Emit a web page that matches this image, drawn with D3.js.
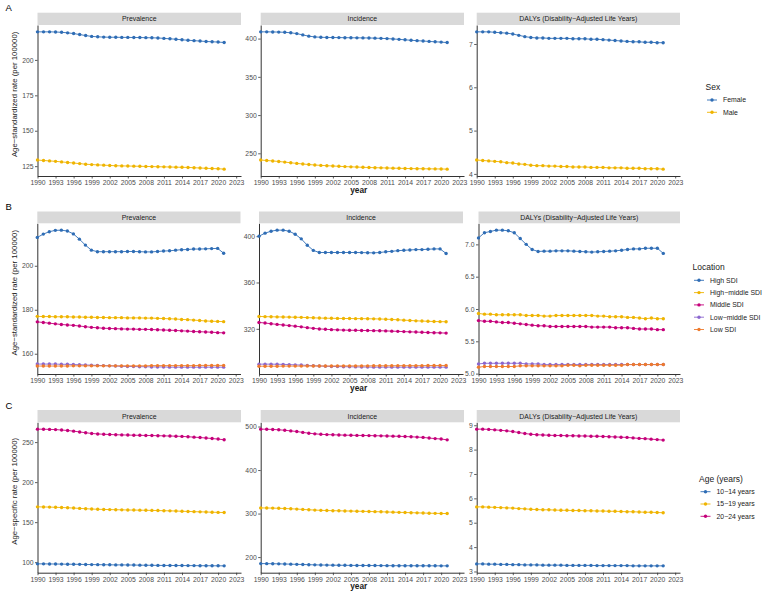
<!DOCTYPE html>
<html>
<head>
<meta charset="utf-8">
<script src="https://cdn.jsdelivr.net/npm/d3@7"></script>
<style>
  body { margin: 0; background: #fff; }
  text { font-family: "Liberation Sans", Arial, sans-serif; }
</style>
</head>
<body>
<svg id="chart" width="767" height="594"></svg>
<script>
// ---- data ----
const years = d3.range(1990, 2022);
const xBreaks = d3.range(1990, 2024, 3);
const measures = ["Prevalence", "Incidence", "DALYs (Disability\u2212Adjusted Life Years)"];

const sexGroups = ["Female", "Male"];
const sdiGroups = ["High SDI", "High\u2212middle SDI", "Middle SDI", "Low\u2212middle SDI", "Low SDI"];
const ageGroups = ["10\u221214 years", "15\u221219 years", "20\u221224 years"];

const sexColors = ["#2f6db5", "#efb400"];
const sdiColors = ["#2f6db5", "#efb400", "#c5007a", "#8b67cf", "#ee7a2d"];
const ageColors = ["#2f6db5", "#efb400", "#c5007a"];

// A: by sex
const sexPrevFemale = [219.8,219.8,219.8,219.7,219.5,219.1,218.6,217.9,217.2,216.6,216.3,216.1,216.0,216.0,215.9,215.9,215.8,215.8,215.7,215.6,215.5,215.2,214.9,214.6,214.2,213.9,213.6,213.3,213.0,212.8,212.6,212.3];
const sexPrevMale   = [129.3,129.0,128.7,128.4,128.0,127.6,127.2,126.8,126.4,126.1,125.9,125.7,125.5,125.3,125.2,125.1,125.0,124.9,124.8,124.7,124.6,124.5,124.4,124.3,124.2,124.1,123.9,123.7,123.5,123.3,123.2,122.9];
const sexIncFemale  = [408.8,408.8,408.7,408.5,408.2,407.6,406.5,404.8,403.2,402.2,401.7,401.5,401.4,401.3,401.2,401.1,401.0,400.9,400.8,400.6,400.3,400.0,399.5,399.0,398.4,397.8,397.3,396.8,396.3,395.8,395.4,394.8];
const sexIncMale    = [241.2,240.6,240.0,239.3,238.5,237.6,236.8,236.0,235.3,234.7,234.2,233.8,233.4,233.0,232.6,232.3,232.0,231.7,231.4,231.2,231.0,230.8,230.6,230.4,230.2,230.0,229.9,229.8,229.7,229.6,229.5,229.3];
const sexDalyFemale = [7.28,7.28,7.28,7.27,7.26,7.25,7.23,7.20,7.17,7.15,7.14,7.14,7.13,7.13,7.13,7.13,7.12,7.12,7.12,7.11,7.11,7.10,7.09,7.08,7.07,7.06,7.05,7.05,7.04,7.04,7.03,7.03];
const sexDalyMale   = [4.32,4.31,4.30,4.29,4.28,4.26,4.25,4.23,4.22,4.20,4.19,4.19,4.18,4.18,4.17,4.17,4.16,4.16,4.16,4.15,4.15,4.15,4.14,4.14,4.14,4.13,4.13,4.13,4.12,4.12,4.12,4.11];

// B: by SDI
const sdiPrevHigh    = [212.9,214.4,215.5,216.1,216.2,215.8,214.5,212.1,209.4,207.1,206.4,206.4,206.4,206.4,206.4,206.5,206.5,206.4,206.3,206.3,206.5,206.7,206.8,207.1,207.3,207.4,207.6,207.6,207.7,207.8,207.9,205.7];
const sdiPrevHighMid = [177.0,176.9,176.9,176.8,176.8,176.8,176.7,176.7,176.6,176.6,176.5,176.5,176.4,176.4,176.4,176.3,176.3,176.3,176.2,176.2,176.1,176.0,175.9,175.8,175.6,175.5,175.3,175.1,174.9,174.8,174.7,174.6];
const sdiPrevMid     = [174.5,174.2,173.9,173.6,173.3,173.1,172.9,172.6,172.3,172.0,171.8,171.6,171.5,171.4,171.3,171.2,171.2,171.1,171.1,171.0,170.9,170.8,170.7,170.6,170.4,170.3,170.1,170.0,169.9,169.8,169.6,169.5];
const sdiPrevLowMid  = [155.3,155.3,155.3,155.3,155.2,155.2,155.1,155.0,154.9,154.8,154.7,154.6,154.5,154.4,154.3,154.2,154.2,154.1,154.1,154.0,154.0,154.0,153.9,153.9,153.9,153.9,153.9,153.9,153.9,153.9,153.9,153.9];
const sdiPrevLow     = [154.4,154.4,154.4,154.4,154.4,154.4,154.5,154.5,154.5,154.5,154.5,154.5,154.5,154.5,154.5,154.5,154.5,154.5,154.5,154.6,154.6,154.6,154.6,154.6,154.6,154.6,154.6,154.7,154.7,154.7,154.7,154.7];
const sdiIncHigh     = [400.0,402.6,404.3,405.2,405.2,404.3,401.7,397.7,392.2,387.7,385.9,385.9,385.9,385.9,385.9,385.9,385.9,385.8,385.7,385.6,385.9,386.5,386.9,387.5,387.8,388.1,388.4,388.4,388.7,389.0,389.0,385.1];
const sdiIncHighMid  = [330.7,330.5,330.4,330.3,330.2,330.1,330.0,329.9,329.7,329.5,329.3,329.2,329.1,329.0,328.9,328.9,328.8,328.8,328.7,328.6,328.5,328.3,328.1,327.8,327.5,327.2,326.9,326.7,326.5,326.3,326.2,326.1];
const sdiIncMid      = [325.5,325.0,324.4,323.8,323.3,322.8,322.3,321.7,321.0,320.4,319.9,319.6,319.3,319.1,318.9,318.8,318.7,318.6,318.5,318.4,318.3,318.2,318.0,317.8,317.6,317.4,317.2,317.0,316.8,316.6,316.5,316.3];
const sdiIncLowMid   = [289.5,289.5,289.5,289.4,289.3,289.1,288.9,288.7,288.4,288.1,287.9,287.7,287.5,287.4,287.3,287.2,287.1,287.0,287.0,286.9,286.9,286.9,286.9,286.9,286.9,286.9,286.9,286.9,286.9,286.9,286.9,286.9];
const sdiIncLow      = [287.7,287.7,287.7,287.7,287.8,287.8,287.8,287.8,287.9,287.9,287.9,287.9,287.9,288.0,288.0,288.0,288.0,288.0,288.0,288.1,288.1,288.1,288.1,288.2,288.2,288.2,288.2,288.2,288.3,288.3,288.3,288.3];
const sdiDalyHigh    = [7.10,7.18,7.20,7.22,7.22,7.21,7.18,7.09,7.00,6.92,6.89,6.895,6.895,6.90,6.90,6.90,6.895,6.89,6.885,6.88,6.885,6.89,6.895,6.90,6.91,6.92,6.93,6.93,6.94,6.94,6.94,6.86];
const sdiDalyHighMid = [5.93,5.92,5.92,5.91,5.91,5.91,5.91,5.91,5.90,5.90,5.90,5.89,5.89,5.90,5.90,5.90,5.90,5.90,5.90,5.90,5.89,5.89,5.88,5.88,5.88,5.87,5.87,5.86,5.85,5.86,5.85,5.85];
const sdiDalyMid     = [5.82,5.81,5.81,5.80,5.79,5.79,5.78,5.77,5.76,5.75,5.74,5.74,5.73,5.73,5.73,5.73,5.73,5.73,5.73,5.72,5.72,5.72,5.72,5.71,5.71,5.71,5.70,5.69,5.69,5.69,5.68,5.68];
const sdiDalyLowMid  = [5.15,5.16,5.16,5.16,5.16,5.16,5.16,5.16,5.15,5.15,5.15,5.14,5.14,5.14,5.14,5.14,5.14,5.14,5.14,5.14,5.14,5.14,5.14,5.14,5.14,5.14,5.14,5.14,5.14,5.14,5.14,5.14];
const sdiDalyLow     = [5.10,5.11,5.11,5.11,5.11,5.11,5.11,5.12,5.12,5.12,5.12,5.12,5.12,5.12,5.12,5.13,5.13,5.12,5.13,5.13,5.13,5.13,5.13,5.13,5.13,5.14,5.14,5.14,5.14,5.14,5.14,5.14];

// C: by age
const agePrev1014 = [97.9,97.9,97.8,97.7,97.6,97.5,97.4,97.3,97.1,97.0,96.9,96.8,96.7,96.6,96.6,96.5,96.4,96.3,96.2,96.1,96.0,95.9,95.9,95.8,95.8,95.7,95.7,95.6,95.6,95.5,95.5,95.4];
const agePrev1519 = [169.1,169.0,168.8,168.6,168.3,168.0,167.6,167.2,166.8,166.4,166.1,165.9,165.7,165.5,165.4,165.2,165.1,165.0,164.8,164.7,164.5,164.3,164.1,163.9,163.6,163.4,163.1,162.9,162.7,162.4,162.2,162.0];
const agePrev2024 = [266.2,266.1,265.9,265.6,265.1,264.5,263.7,262.7,261.7,260.8,260.2,259.8,259.5,259.2,259.0,258.8,258.6,258.5,258.3,258.2,258.0,257.8,257.6,257.4,257.1,256.7,256.2,255.7,255.1,254.5,253.8,252.9];
const ageInc1014  = [185.0,184.9,184.7,184.4,184.1,183.7,183.3,182.9,182.5,182.1,181.8,181.6,181.4,181.2,181.1,180.9,180.8,180.7,180.6,180.5,180.4,180.3,180.2,180.2,180.1,180.1,180.0,180.0,179.9,179.9,179.8,179.8];
const ageInc1519  = [313.0,312.8,312.5,312.1,311.6,311.0,310.3,309.5,308.7,308.0,307.4,307.0,306.6,306.3,306.0,305.7,305.4,305.1,304.8,304.4,304.0,303.6,303.2,302.8,302.4,302.0,301.6,301.2,300.8,300.5,300.2,300.0];
const ageInc2024  = [494.0,493.8,493.3,492.5,491.4,490.0,488.5,486.5,484.7,483.2,482.1,481.4,481.0,480.6,480.2,479.9,479.6,479.4,479.2,478.9,478.6,478.3,477.9,477.5,477.0,476.4,475.7,475.0,473.5,472.3,471.3,469.4];
const ageDaly1014 = [3.31,3.31,3.30,3.30,3.29,3.29,3.28,3.28,3.27,3.27,3.27,3.26,3.26,3.26,3.26,3.25,3.25,3.25,3.25,3.25,3.24,3.24,3.24,3.24,3.24,3.24,3.23,3.23,3.23,3.23,3.23,3.23];
const ageDaly1519 = [5.65,5.65,5.64,5.63,5.62,5.61,5.60,5.58,5.57,5.55,5.54,5.53,5.53,5.52,5.51,5.51,5.50,5.50,5.49,5.49,5.48,5.48,5.47,5.47,5.46,5.45,5.45,5.44,5.43,5.43,5.42,5.41];
const ageDaly2024 = [8.84,8.84,8.83,8.81,8.79,8.77,8.74,8.70,8.66,8.63,8.61,8.60,8.59,8.58,8.58,8.57,8.57,8.56,8.56,8.55,8.55,8.54,8.53,8.52,8.51,8.50,8.48,8.46,8.45,8.43,8.41,8.39];

// y tick labels per panel
const sexTicks = [[125,150,175,200],[250,300,350,400],[4,5,6,7]];
const sdiTicks = [[160,180,200],[320,360,400],[5.0,5.5,6.0,6.5,7.0]];
const ageTicks = [[100,150,200,250],[200,300,400,500],[3,4,5,6,7,8,9]];

// ---- layout ----
const rows = [
  { tag: "A", yTitle: "Age\u2212standardized rate (per 100000)", legendTitle: "Sex",
    groups: sexGroups, colors: sexColors, ticks: sexTicks, fmt: [d3.format("d"), d3.format("d"), d3.format("d")],
    series: [[sexPrevFemale, sexPrevMale], [sexIncFemale, sexIncMale], [sexDalyFemale, sexDalyMale]],
    stripTop: 12.7, top: 25, bottom: 176,
    xs: [[37.5, 241], [260.7, 464], [476.7, 680]], legendX: 705.5, legendY: 87 },
  { tag: "B", yTitle: "Age\u2212standardized rate (per 100000)", legendTitle: "Location",
    groups: sdiGroups, colors: sdiColors, ticks: sdiTicks, fmt: [d3.format("d"), d3.format("d"), d3.format(".1f")],
    series: [[sdiPrevHigh, sdiPrevHighMid, sdiPrevMid, sdiPrevLowMid, sdiPrevLow],
             [sdiIncHigh, sdiIncHighMid, sdiIncMid, sdiIncLowMid, sdiIncLow],
             [sdiDalyHigh, sdiDalyHighMid, sdiDalyMid, sdiDalyLowMid, sdiDalyLow]],
    stripTop: 211.5, top: 223.3, bottom: 374,
    xs: [[37.3, 240.5], [259, 463], [478.5, 680]], legendX: 692.5, legendY: 267.3 },
  { tag: "C", yTitle: "Age\u2212specific rate (per 100000)", legendTitle: "Age (years)",
    groups: ageGroups, colors: ageColors, ticks: ageTicks, fmt: [d3.format("d"), d3.format("d"), d3.format("d")],
    series: [[agePrev1014, agePrev1519, agePrev2024], [ageInc1014, ageInc1519, ageInc2024], [ageDaly1014, ageDaly1519, ageDaly2024]],
    stripTop: 410, top: 422.3, bottom: 572.7,
    xs: [[37.5, 241], [260.7, 464], [476.7, 680]], legendX: 699, legendY: 478.7 }
];

const svg = d3.select("#chart");
const axisCol = "#333333";
const tickCol = "#4d4d4d";

rows.forEach(row => {
  const rg = svg.append("g");

  // panel tag
  rg.append("text").attr("x", 5.5).attr("y", row.stripTop - 1.5)
    .attr("font-size", 9.5).attr("fill", "#000").text(row.tag);

  row.series.forEach((groupSeries, p) => {
    const [x0, x1] = row.xs[p];
    const x = d3.scaleLinear().domain([1990, 2023.8]).range([x0, x1]);
    const all = groupSeries.flat();
    const lo = d3.min(all), hi = d3.max(all), pad = (hi - lo) * 0.05;
    const y = d3.scaleLinear().domain([lo - pad, hi + pad]).range([row.bottom, row.top]);

    // strip
    rg.append("rect").attr("x", x0).attr("y", row.stripTop)
      .attr("width", x1 - x0).attr("height", row.top - row.stripTop)
      .attr("fill", "#d9d9d9");
    rg.append("text").attr("x", (x0 + x1) / 2).attr("y", (row.stripTop + row.top) / 2 + 2.4)
      .attr("text-anchor", "middle").attr("font-size", 6.9).attr("fill", "#1a1a1a")
      .text(measures[p]);

    // axes
    const xa = rg.append("g").attr("transform", `translate(0,${row.bottom})`)
      .call(d3.axisBottom(x).tickValues(xBreaks).tickFormat(d3.format("d"))
        .tickSize(2.5).tickSizeOuter(0).tickPadding(1.5));
    const ya = rg.append("g").attr("transform", `translate(${x0},0)`)
      .call(d3.axisLeft(y).tickValues(row.ticks[p]).tickFormat(row.fmt[p])
        .tickSize(2.5).tickSizeOuter(0).tickPadding(1.5));
    [xa, ya].forEach(a => {
      a.select(".domain").attr("stroke", axisCol).attr("stroke-width", 1);
      a.selectAll(".tick line").attr("stroke", axisCol).attr("stroke-width", 0.8);
      a.selectAll(".tick text").attr("fill", tickCol).attr("font-size", 6.8)
        .attr("font-family", "Liberation Sans, Arial, sans-serif");
    });

    // series: lines then points
    const line = d3.line().x((d, i) => x(years[i])).y(d => y(d));
    groupSeries.forEach((vals, s) => {
      const col = row.colors[s];
      rg.append("path").attr("d", line(vals)).attr("fill", "none")
        .attr("stroke", col).attr("stroke-width", 0.9);
      rg.append("g").selectAll("circle").data(vals).enter().append("circle")
        .attr("cx", (d, i) => x(years[i])).attr("cy", d => y(d))
        .attr("r", 1.7).attr("fill", col);
    });
  });

  // axis titles
  const first = row.xs[0][0], last = row.xs[2][1];
  rg.append("text").attr("x", (first + last) / 2).attr("y", row.bottom + 16.5)
    .attr("text-anchor", "middle").attr("font-size", 8.3).attr("font-weight", "bold")
    .attr("fill", "#1a1a1a").text("year");
  const cy = (row.stripTop + row.bottom) / 2;
  rg.append("text").attr("transform", `translate(17,${cy}) rotate(-90)`)
    .attr("text-anchor", "middle").attr("font-size", 7.8).attr("fill", "#1a1a1a")
    .text(row.yTitle);

  // legend
  const lg = rg.append("g");
  lg.append("text").attr("x", row.legendX).attr("y", row.legendY + 3)
    .attr("font-size", 8.5).attr("fill", "#1a1a1a").text(row.legendTitle);
  row.groups.forEach((name, i) => {
    const cyL = row.legendY + 13 + i * 12.3;
    const kx = row.legendX + 1.5;
    lg.append("line").attr("x1", kx).attr("x2", kx + 10).attr("y1", cyL).attr("y2", cyL)
      .attr("stroke", row.colors[i]).attr("stroke-width", 0.9);
    lg.append("circle").attr("cx", kx + 5).attr("cy", cyL).attr("r", 1.7).attr("fill", row.colors[i]);
    lg.append("text").attr("x", kx + 16).attr("y", cyL + 2.4)
      .attr("font-size", 6.9).attr("fill", "#1a1a1a").text(name);
  });
});
</script>
</body>
</html>
